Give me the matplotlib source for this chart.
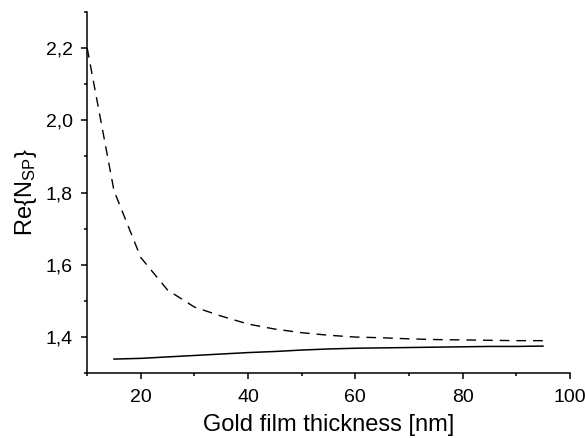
import matplotlib.pyplot as plt
from matplotlib.ticker import MultipleLocator, FuncFormatter

# dashed curve
thickDash = [10, 15, 20, 25, 30, 35, 40, 45, 50, 55, 60, 65, 70, 75, 80, 85, 90, 95]
nDash = [2.20, 1.805, 1.62, 1.53, 1.483, 1.458, 1.436, 1.422, 1.412, 1.405, 1.400,
         1.398, 1.395, 1.393, 1.392, 1.391, 1.390, 1.390]

# solid curve
thickSolid = [15, 20, 25, 30, 35, 40, 45, 50, 55, 60, 65, 70, 75, 80, 85, 90, 95]
nSolid = [1.339, 1.341, 1.345, 1.349, 1.353, 1.357, 1.360, 1.364, 1.367, 1.369,
          1.370, 1.371, 1.372, 1.373, 1.374, 1.374, 1.375]

plt.rcParams['font.family'] = ['Liberation Sans', 'DejaVu Sans']
plt.rcParams['mathtext.fontset'] = 'custom'
plt.rcParams['mathtext.rm'] = 'Liberation Sans'
plt.rcParams['mathtext.it'] = 'Liberation Sans'

fig = plt.figure(figsize=(5.85, 4.38), dpi=100)
ax = fig.add_axes([0.149, 0.148, 0.825, 0.825])

ax.plot(thickDash, nDash, color='black', lw=1.0, dashes=(7, 5))
ax.plot(thickSolid, nSolid, color='black', lw=1.1)

ax.set_xlim(10, 100)
ax.set_ylim(1.3, 2.3)
ax.xaxis.set_major_locator(MultipleLocator(20))
ax.xaxis.set_minor_locator(MultipleLocator(10))
ax.yaxis.set_major_locator(MultipleLocator(0.2))
ax.yaxis.set_minor_locator(MultipleLocator(0.1))
ax.xaxis.set_major_formatter(FuncFormatter(lambda v, p: '' if v < 15 else f"{v:.0f}"))
ax.yaxis.set_major_formatter(FuncFormatter(lambda v, p: '' if v < 1.35 or v > 2.25 else f"{v:.1f}".replace('.', ',')))

for s in ['top', 'right']:
    ax.spines[s].set_visible(False)
for s in ['left', 'bottom']:
    ax.spines[s].set_linewidth(1.1)

ax.tick_params(which='major', direction='out', length=4.5, width=1.1, labelsize=14)
ax.tick_params(axis='x', which='major', pad=7)
ax.tick_params(axis='y', which='major', pad=6)
ax.tick_params(which='minor', direction='out', length=2.5, width=1.1)

ax.set_xlabel('Gold film thickness [nm]', fontsize=17, labelpad=6)
ax.set_ylabel(r'Re{N$_{\mathrm{SP}}$}', fontsize=17, labelpad=5)

fig.savefig('out.png', dpi=100)
